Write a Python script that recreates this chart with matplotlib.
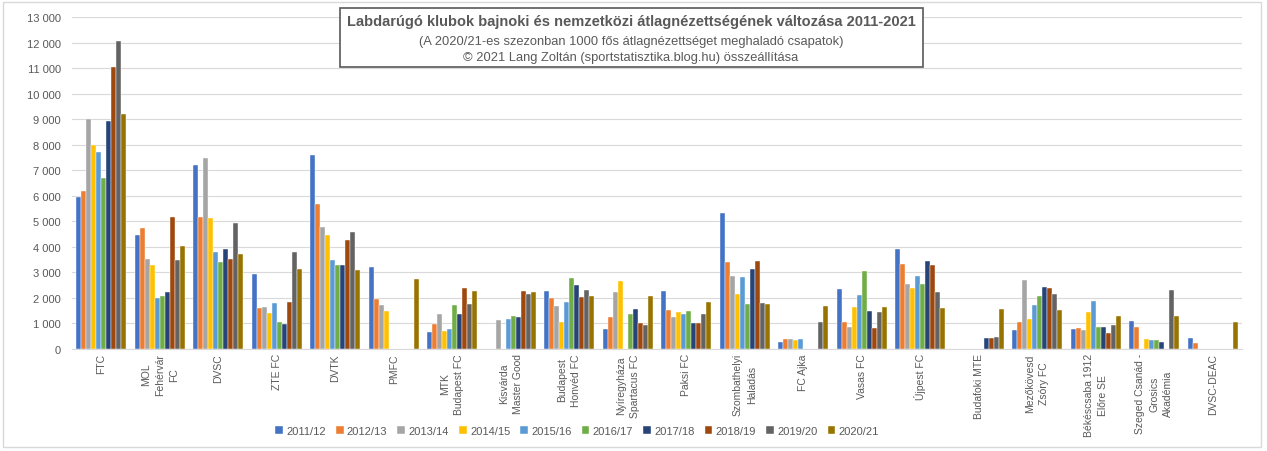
import matplotlib.pyplot as plt
import numpy as np
from matplotlib.patches import Rectangle

plt.rcParams['font.family'] = ['Liberation Sans', 'DejaVu Sans']

nan = np.nan

teams = ["FTC", "MOL\nFehérvár\nFC", "DVSC", "ZTE FC", "DVTK", "PMFC",
         "MTK\nBudapest FC", "Kisvárda\nMaster Good", "Budapest\nHonvéd FC",
         "Nyíregyháza\nSpartacus FC", "Paksi FC", "Szombathelyi\nHaladás",
         "FC Ajka", "Vasas FC", "Újpest FC", "Budafoki MTE",
         "Mezőkövesd\nZsóry FC", "Békéscsaba 1912\nElőre SE",
         "Szeged Csanád -\nGrosics\nAkadémia", "DVSC-DEAC"]

seasons = ["2011/12", "2012/13", "2013/14", "2014/15", "2015/16",
           "2016/17", "2017/18", "2018/19", "2019/20", "2020/21"]

s2011 = [5970, 4445, 7190, 2940, 7595, 3230, 680, nan, 2261, 771, 2261, 5333, 288, 2366, 3908, nan, 745, 771, 1098, 418]
s2012 = [6170, 4720, 5150, 1595, 5675, 1960, 995, nan, 1987, 1242, 1516, 3425, 379, 1046, 3320, nan, 1046, 810, 876, 248]
s2013 = [9020, 3530, 7465, 1635, 4770, 1725, 1360, 1137, 1673, 2222, 1268, 2850, 379, 876, 2562, nan, 2719, 758, nan, nan]
s2014 = [8000, 3295, 5125, 1410, 4445, 1490, 693, nan, 1059, 2680, 1438, 2157, 340, 1660, 2379, nan, 1190, 1438, 379, nan]
s2015 = [7725, 1987, 3790, 1815, 3490, nan, 784, 1163, 1843, nan, 1360, 2824, 379, 2118, 2863, nan, 1725, 1882, 340, nan]
s2016 = [6705, 2065, 3410, 1045, 3295, nan, 1725, 1307, 2771, 1373, 1503, 1765, nan, 3072, 2536, nan, 2078, 850, 340, nan]
s2017 = [8930, 2235, 3920, 980, 3280, nan, 1373, 1268, 2510, 1569, 1007, 3124, nan, 1490, 3438, 418, 2418, 850, 261, nan]
s2018 = [11060, 5150, 3540, 1855, 4260, nan, 2405, 2261, 2026, 1033, 1020, 3451, nan, 824, 3281, 418, 2379, 627, nan, nan]
s2019 = [12065, 3490, 4940, 3805, 4575, nan, 1765, 2170, 2314, 941, 1360, 1791, 1046, 1451, 2248, 457, 2144, 941, 2327, nan]
s2020 = [9215, 4040, 3710, 3135, 3110, 2745, 2275, 2222, 2078, 2065, 1830, 1765, 1673, 1660, 1595, 1569, 1529, 1294, 1281, 1059]

values = [s2011, s2012, s2013, s2014, s2015, s2016, s2017, s2018, s2019, s2020]
colors = ["#4472C4", "#ED7D31", "#A5A5A5", "#FFC000", "#5B9BD5",
          "#70AD47", "#264478", "#9E480E", "#636363", "#997300"]

txt = "#595959"
W, H = 1267, 452
fig = plt.figure(figsize=(W / 100, H / 100), dpi=100)
ax = fig.add_axes([72 / W, 1 - 350 / H, (1242 - 72) / W, (350 - 18) / H])

x = np.arange(len(teams))
w = 0.085
for i in range(len(seasons)):
    ax.bar(x + (i - 4.5) * w, values[i], w, color=colors[i], label=seasons[i],
           edgecolor="white", linewidth=0.3, zorder=3)

ax.set_xlim(-0.5, len(teams) - 0.5)
ax.set_ylim(0, 13000)
ax.set_yticks(range(0, 13001, 1000))
ax.set_yticklabels([f"{v:,}".replace(",", " ") for v in range(0, 13001, 1000)])
ax.yaxis.grid(True, color="#D9D9D9", linewidth=0.8, zorder=0)
ax.set_axisbelow(True)
for s in ["top", "right", "left"]:
    ax.spines[s].set_visible(False)
ax.spines["bottom"].set_color("#D9D9D9")
ax.tick_params(axis="y", length=0, pad=8, labelsize=8, labelcolor=txt)
ax.tick_params(axis="x", length=0, pad=3, labelsize=7.5, labelcolor=txt)
ax.set_xticks(x)
ax.set_xticklabels(teams, rotation=90, multialignment="center", linespacing=1.5)

# title box
fig.patches.append(Rectangle((340 / W, 1 - 68 / H), (923 - 340) / W, (68 - 9) / H,
                             transform=fig.transFigure, facecolor="white",
                             edgecolor="#595959", linewidth=1.2, zorder=5))
fig.text(631 / W, 1 - 22 / H,
         "Labdarúgó klubok bajnoki és nemzetközi átlagnézettségének változása 2011-2021",
         ha="center", va="center", fontsize=10.5, fontweight="bold", color=txt, zorder=6)
fig.text(631 / W, 1 - 42 / H,
         "(A 2020/21-es szezonban 1000 fős átlagnézettséget meghaladó csapatok)",
         ha="center", va="center", fontsize=9.3, color=txt, zorder=6)
fig.text(631 / W, 1 - 58 / H,
         "© 2021 Lang Zoltán (sportstatisztika.blog.hu) összeállítása",
         ha="center", va="center", fontsize=9.3, color=txt, zorder=6)

# outer border
fig.patches.append(Rectangle((3 / W, 1 - 448 / H), (1261 - 3) / W, (448 - 3) / H,
                             transform=fig.transFigure, facecolor="none",
                             edgecolor="#D9D9D9", linewidth=1, zorder=1))

fig.legend(loc="center", bbox_to_anchor=(577 / W, 1 - 432 / H), ncol=10,
           frameon=False, fontsize=8, labelcolor=txt, handlelength=0.7,
           handleheight=0.7, handletextpad=0.3, columnspacing=0.9)

fig.savefig("out.png", dpi=100, facecolor="white")
